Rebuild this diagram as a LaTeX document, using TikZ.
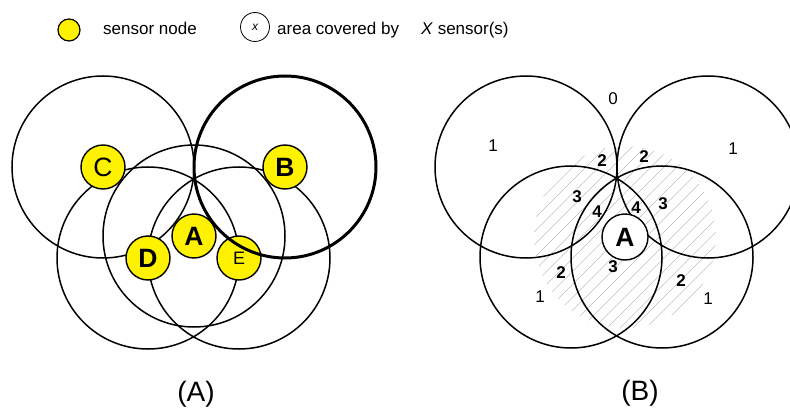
\documentclass[tikz,border=0pt]{standalone}
\usepackage{fontspec}
\setmainfont{Liberation Sans}

\begin{document}
\begin{tikzpicture}[x=1pt,y=-1pt,
  reach/.style={line width=1.5pt},
  sensor/.style={circle,draw,fill=yellow,line width=1.4pt,minimum size=44pt,
    inner sep=0pt,font=\fontsize{26.5}{26.5}\selectfont},
  num/.style={inner sep=0pt,font=\fontsize{17}{17}\selectfont},
  bnum/.style={inner sep=0pt,font=\fontsize{17}{17}\selectfont\bfseries},
  hatch/.style={gray!50,line width=0.45pt},
  caption/.style={font=\fontsize{28}{28}\selectfont}]
\useasboundingbox (0,0) rectangle (790,417);
\clip (0,0) rectangle (790,417);

% legend
\node[sensor,minimum size=22pt,line width=1.2pt] at (69,30) (key) {};
\node[num,anchor=base west] at (103,35) (keytext) {sensor node};
\node[circle,draw,line width=0.8pt,minimum size=29pt,inner sep=0pt,
  font=\fontsize{12}{12}\selectfont\itshape] at (255,27) (area) {x};
\node[num,anchor=base west] at (277,35) (areatext) {area covered by};
\node[num,anchor=base west] at (421,35) (xtext) {\textit{X} sensor(s)};

% left: sensors and their ranges
\coordinate (c) at (103,167);
\coordinate (b) at (285,167);
\coordinate (a) at (194,236);
\coordinate (d) at (148,258);
\coordinate (e) at (239,258);
\foreach \p in {c,a,d,e}
  \draw[reach] (\p) circle[radius=91pt];
\node[sensor] at (c) (C) {C};
\node[sensor] at (d) (D) {\textbf{D}};
\node[sensor] at (a) (A) {\textbf{A}};
\node[sensor,font=\fontsize{18}{18}\selectfont] at (e) (E) {E};
\node[sensor] at (b) (B) {\textbf{B}};
\draw[line width=3pt] (b) circle[radius=91pt];
\node[caption] at (196,394) (capA) {(A)};

% right: coverage counts once A is gone
\begin{scope}[xshift=423pt]
\coordinate (c2) at (103,167);
\coordinate (b2) at (285,167);
\coordinate (a2) at (202,237);
\coordinate (d2) at (148,257);
\coordinate (e2) at (239,257);
\begin{scope}
  \clip (a2) circle[radius=91pt];
  \foreach \s in {304,317,...,580}
    \draw[hatch] ({\s-340},340) -- ++(210,-210);
\end{scope}
\foreach \p in {c2,b2,d2,e2}
  \draw[reach] (\p) circle[radius=91pt];
\node[sensor,fill=white,minimum size=46pt] at (a2) (A2) {\textbf{A}};
\end{scope}

\node[num] at (613,99) (n0) {0};
\node[num] at (493,146) (n1a) {1};
\node[num] at (733,149) (n1b) {1};
\node[num] at (540,297) (n1c) {1};
\node[num] at (708,299) (n1d) {1};
\node[bnum] at (602,161) (n2a) {2};
\node[bnum] at (644,157) (n2b) {2};
\node[bnum] at (561,273) (n2c) {2};
\node[bnum] at (681,281) (n2d) {2};
\node[bnum] at (577,197) (n3a) {3};
\node[bnum] at (663,204) (n3b) {3};
\node[bnum] at (613,267) (n3c) {3};
\node[bnum] at (597,212) (n4a) {4};
\node[bnum] at (636,208) (n4b) {4};
\node[caption] at (640,393) (capB) {(B)};
\end{tikzpicture}
\end{document}
